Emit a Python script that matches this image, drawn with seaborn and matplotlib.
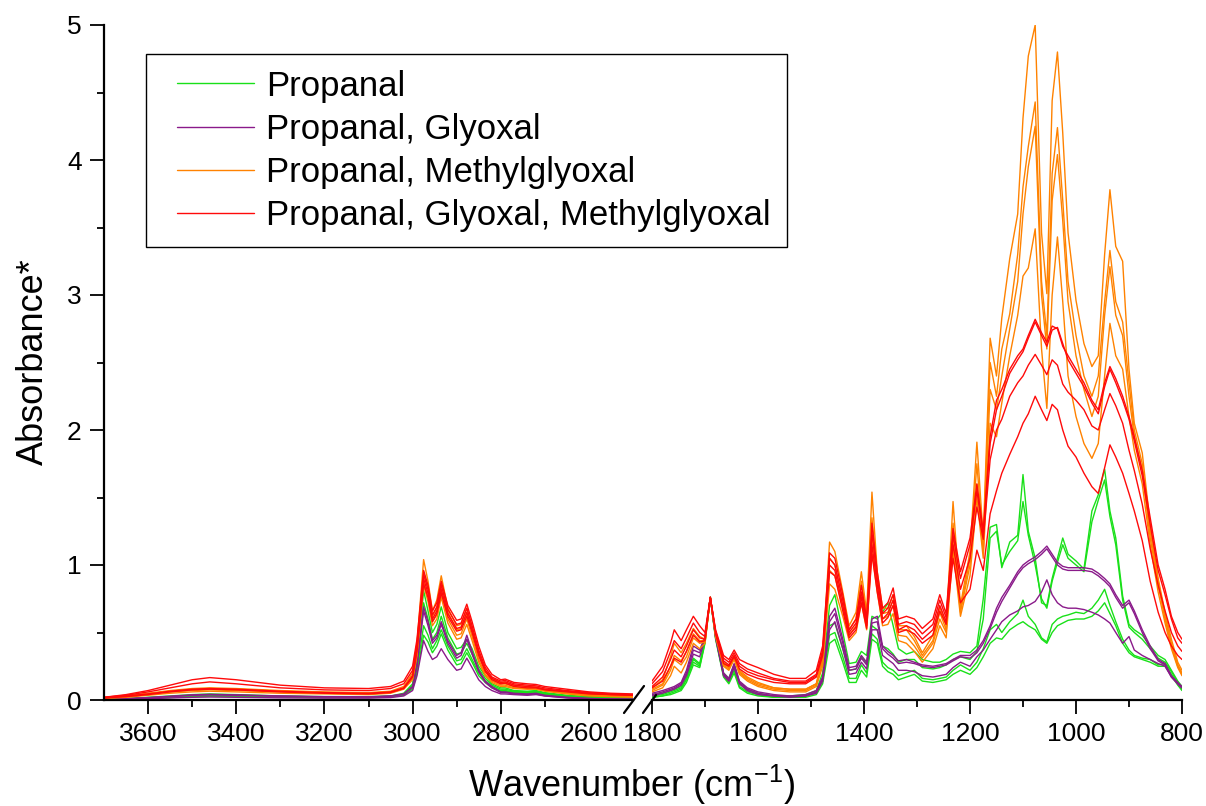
import numpy as np
import pandas as pd
import matplotlib
matplotlib.use("Agg")
import matplotlib.pyplot as plt
import seaborn as sns
from matplotlib.lines import Line2D
from matplotlib.legend_handler import HandlerLine2D

SERIES = ["Propanal", "Propanal, Glyoxal", "Propanal, Methylglyoxal",
          "Propanal, Glyoxal, Methylglyoxal"]
COLORS = {SERIES[0]: "#19E019", SERIES[1]: "#8A1A8A",
          SERIES[2]: "#FF8200", SERIES[3]: "#FF0A0A"}

# wavenumber grids (cm-1)
L_WN = [3700, 3650, 3600, 3550, 3500, 3460, 3400, 3300, 3200, 3100,
        3050, 3020, 3000, 2990, 2975, 2965, 2955, 2945, 2935, 2920,
        2900, 2890, 2877, 2865, 2850, 2835, 2820, 2800, 2790, 2770,
        2740, 2720, 2700, 2650, 2600, 2550, 2500]
R_WN = [1800, 1780, 1765, 1758, 1745, 1735, 1722, 1710, 1700, 1690,
        1680, 1665, 1655, 1645, 1635, 1620, 1600, 1570, 1540, 1510,
        1490, 1478, 1465, 1455, 1440, 1428, 1415, 1405, 1395, 1385,
        1375, 1365, 1355, 1345, 1335, 1320, 1305, 1290, 1270, 1257,
        1245, 1232, 1218, 1200, 1187, 1175, 1162, 1150, 1140, 1125,
        1110, 1100, 1090, 1077, 1065, 1055, 1045, 1035, 1025, 1015,
        1000, 985, 970, 958, 946, 936, 925, 912, 900, 890,
        875, 860, 845, 832, 820, 808, 800]

# ---- Propanal (green) ----
G1_L = [0.005, 0.01, 0.02, 0.03, 0.04, 0.045, 0.04, 0.03, 0.025, 0.025,
        0.03, 0.05, 0.12, 0.30, 0.81, 0.66, 0.50, 0.56, 0.69, 0.50,
        0.38, 0.39, 0.45, 0.38, 0.25, 0.18, 0.12, 0.09, 0.09, 0.07,
        0.065, 0.07, 0.055, 0.035, 0.025, 0.02, 0.015]
G1_R = [0.04, 0.05, 0.07, 0.08, 0.10, 0.18, 0.31, 0.27, 0.45, 0.76,
        0.48, 0.20, 0.16, 0.26, 0.13, 0.08, 0.05, 0.03, 0.03, 0.04,
        0.07, 0.20, 0.70, 0.78, 0.50, 0.27, 0.28, 0.36, 0.33, 0.62,
        0.60, 0.65, 0.72, 0.55, 0.38, 0.34, 0.36, 0.30, 0.28, 0.28,
        0.30, 0.34, 0.36, 0.35, 0.40, 0.75, 1.28, 1.30, 0.98, 1.17,
        1.22, 1.67, 1.25, 1.05, 0.72, 0.70, 0.90, 1.05, 1.20, 1.08,
        1.03, 0.97, 1.40, 1.52, 1.71, 1.40, 1.20, 0.77, 0.56, 0.52,
        0.48, 0.40, 0.33, 0.30, 0.22, 0.14, 0.10]
G2_L = [0.005, 0.01, 0.018, 0.025, 0.035, 0.04, 0.035, 0.028, 0.022, 0.022,
        0.028, 0.045, 0.11, 0.27, 0.72, 0.60, 0.45, 0.50, 0.62, 0.46,
        0.34, 0.35, 0.42, 0.34, 0.23, 0.16, 0.11, 0.08, 0.08, 0.065,
        0.06, 0.065, 0.05, 0.03, 0.02, 0.015, 0.012]
G2_R = [0.03, 0.04, 0.06, 0.07, 0.09, 0.16, 0.30, 0.26, 0.44, 0.76,
        0.47, 0.19, 0.15, 0.25, 0.12, 0.07, 0.04, 0.03, 0.02, 0.03,
        0.06, 0.16, 0.55, 0.57, 0.38, 0.22, 0.23, 0.32, 0.27, 0.55,
        0.52, 0.40, 0.38, 0.34, 0.28, 0.30, 0.30, 0.24, 0.23, 0.24,
        0.26, 0.30, 0.32, 0.30, 0.36, 0.60, 1.20, 1.25, 1.00, 1.10,
        1.18, 1.47, 1.22, 1.00, 0.75, 0.68, 0.88, 1.02, 1.15, 1.05,
        1.00, 0.95, 1.32, 1.48, 1.63, 1.36, 1.15, 0.74, 0.54, 0.50,
        0.45, 0.38, 0.31, 0.28, 0.21, 0.13, 0.09]
G3_L = [0.003, 0.008, 0.015, 0.02, 0.03, 0.032, 0.03, 0.024, 0.02, 0.02,
        0.025, 0.04, 0.09, 0.22, 0.55, 0.48, 0.38, 0.44, 0.52, 0.40,
        0.29, 0.30, 0.38, 0.30, 0.20, 0.14, 0.10, 0.07, 0.07, 0.06,
        0.055, 0.06, 0.045, 0.025, 0.015, 0.012, 0.01]
G3_R = [0.02, 0.03, 0.05, 0.06, 0.08, 0.15, 0.28, 0.25, 0.43, 0.76,
        0.46, 0.18, 0.13, 0.22, 0.10, 0.06, 0.04, 0.02, 0.02, 0.03,
        0.05, 0.14, 0.48, 0.50, 0.32, 0.16, 0.16, 0.26, 0.20, 0.49,
        0.45, 0.28, 0.24, 0.22, 0.18, 0.20, 0.22, 0.16, 0.15, 0.16,
        0.17, 0.22, 0.26, 0.22, 0.28, 0.38, 0.52, 0.56, 0.50, 0.58,
        0.64, 0.74, 0.62, 0.56, 0.46, 0.43, 0.56, 0.60, 0.62, 0.63,
        0.65, 0.64, 0.68, 0.74, 0.82, 0.70, 0.58, 0.45, 0.37, 0.33,
        0.31, 0.30, 0.26, 0.27, 0.19, 0.12, 0.08]
G4_L = [0.003, 0.007, 0.013, 0.018, 0.025, 0.028, 0.026, 0.022, 0.018, 0.018,
        0.022, 0.035, 0.08, 0.20, 0.48, 0.43, 0.35, 0.40, 0.49, 0.37,
        0.26, 0.27, 0.35, 0.28, 0.18, 0.13, 0.09, 0.065, 0.065, 0.055,
        0.05, 0.055, 0.04, 0.022, 0.013, 0.01, 0.008]
G4_R = [0.02, 0.03, 0.04, 0.05, 0.07, 0.13, 0.26, 0.24, 0.42, 0.76,
        0.45, 0.17, 0.12, 0.20, 0.09, 0.05, 0.03, 0.02, 0.02, 0.02,
        0.04, 0.12, 0.42, 0.45, 0.28, 0.13, 0.13, 0.22, 0.17, 0.45,
        0.42, 0.25, 0.21, 0.19, 0.15, 0.17, 0.19, 0.14, 0.13, 0.14,
        0.15, 0.19, 0.22, 0.19, 0.24, 0.32, 0.42, 0.46, 0.45, 0.52,
        0.56, 0.58, 0.55, 0.52, 0.45, 0.42, 0.50, 0.55, 0.57, 0.59,
        0.60, 0.60, 0.62, 0.66, 0.72, 0.64, 0.55, 0.42, 0.35, 0.32,
        0.30, 0.28, 0.25, 0.25, 0.18, 0.11, 0.07]

# ---- Propanal, Glyoxal (purple) ----
P1_L = [0.005, 0.01, 0.018, 0.028, 0.038, 0.042, 0.038, 0.03, 0.025, 0.024,
        0.03, 0.045, 0.10, 0.26, 0.69, 0.58, 0.44, 0.48, 0.58, 0.44,
        0.33, 0.35, 0.48, 0.36, 0.22, 0.14, 0.10, 0.06, 0.06, 0.05,
        0.045, 0.05, 0.035, 0.02, 0.012, 0.008, 0.006]
P1_R = [0.05, 0.07, 0.09, 0.10, 0.13, 0.22, 0.40, 0.37, 0.47, 0.76,
        0.48, 0.20, 0.16, 0.27, 0.14, 0.09, 0.06, 0.04, 0.03, 0.04,
        0.07, 0.17, 0.62, 0.68, 0.45, 0.24, 0.25, 0.33, 0.28, 0.60,
        0.62, 0.40, 0.36, 0.33, 0.29, 0.30, 0.28, 0.26, 0.25, 0.26,
        0.27, 0.30, 0.33, 0.33, 0.37, 0.44, 0.55, 0.68, 0.76, 0.85,
        0.95, 1.00, 1.03, 1.06, 1.10, 1.14, 1.08, 1.02, 0.99, 0.98,
        0.98, 0.98, 0.97, 0.94, 0.90, 0.86, 0.78, 0.70, 0.74, 0.66,
        0.52, 0.40, 0.30, 0.27, 0.18, 0.13, 0.10]
P2_L = [0.005, 0.01, 0.016, 0.025, 0.035, 0.038, 0.035, 0.028, 0.023, 0.022,
        0.028, 0.042, 0.095, 0.25, 0.66, 0.55, 0.42, 0.46, 0.56, 0.42,
        0.31, 0.33, 0.45, 0.34, 0.21, 0.13, 0.09, 0.055, 0.055, 0.045,
        0.04, 0.045, 0.03, 0.018, 0.01, 0.007, 0.005]
P2_R = [0.04, 0.06, 0.08, 0.09, 0.12, 0.20, 0.37, 0.35, 0.46, 0.76,
        0.47, 0.19, 0.15, 0.26, 0.13, 0.08, 0.05, 0.03, 0.03, 0.03,
        0.06, 0.16, 0.58, 0.64, 0.42, 0.22, 0.23, 0.31, 0.26, 0.57,
        0.58, 0.38, 0.34, 0.31, 0.27, 0.28, 0.27, 0.25, 0.24, 0.25,
        0.26, 0.29, 0.32, 0.31, 0.35, 0.42, 0.53, 0.65, 0.73, 0.83,
        0.93, 0.98, 1.01, 1.04, 1.08, 1.12, 1.06, 1.00, 0.97, 0.96,
        0.96, 0.96, 0.95, 0.92, 0.88, 0.84, 0.76, 0.68, 0.72, 0.64,
        0.50, 0.38, 0.29, 0.26, 0.17, 0.12, 0.09]
P3_L = [0.003, 0.006, 0.01, 0.015, 0.02, 0.022, 0.02, 0.016, 0.014, 0.014,
        0.018, 0.03, 0.07, 0.18, 0.44, 0.36, 0.30, 0.32, 0.38, 0.30,
        0.22, 0.23, 0.31, 0.24, 0.15, 0.10, 0.07, 0.045, 0.045, 0.04,
        0.035, 0.04, 0.03, 0.015, 0.008, 0.006, 0.005]
P3_R = [0.03, 0.05, 0.07, 0.08, 0.11, 0.18, 0.34, 0.32, 0.45, 0.76,
        0.46, 0.18, 0.14, 0.24, 0.12, 0.07, 0.04, 0.03, 0.02, 0.03,
        0.05, 0.14, 0.52, 0.58, 0.38, 0.19, 0.20, 0.28, 0.23, 0.52,
        0.52, 0.33, 0.30, 0.27, 0.22, 0.22, 0.21, 0.18, 0.17, 0.18,
        0.19, 0.24, 0.28, 0.25, 0.32, 0.37, 0.45, 0.52, 0.58, 0.63,
        0.66, 0.69, 0.70, 0.73, 0.80, 0.89, 0.78, 0.72, 0.69, 0.68,
        0.68, 0.67, 0.65, 0.63, 0.60, 0.57, 0.50, 0.42, 0.47, 0.37,
        0.33, 0.30, 0.27, 0.25, 0.17, 0.12, 0.09]

# ---- Propanal, Methylglyoxal (orange) ----
O1_L = [0.02, 0.03, 0.05, 0.07, 0.085, 0.09, 0.085, 0.07, 0.06, 0.055,
        0.065, 0.10, 0.20, 0.42, 1.04, 0.88, 0.66, 0.74, 0.92, 0.68,
        0.55, 0.56, 0.68, 0.53, 0.35, 0.22, 0.16, 0.13, 0.13, 0.11,
        0.10, 0.095, 0.08, 0.06, 0.045, 0.035, 0.03]
O1_R = [0.09, 0.15, 0.32, 0.42, 0.35, 0.42, 0.53, 0.47, 0.45, 0.76,
        0.50, 0.28, 0.25, 0.33, 0.22, 0.17, 0.13, 0.09, 0.08, 0.08,
        0.12, 0.32, 1.17, 1.10, 0.80, 0.55, 0.65, 0.95, 0.65, 1.54,
        0.95, 0.68, 0.68, 0.78, 0.55, 0.55, 0.47, 0.35, 0.48, 0.69,
        0.55, 1.47, 0.70, 1.10, 1.91, 1.20, 2.68, 2.40, 2.83, 3.27,
        3.60, 4.31, 4.77, 5.00, 3.46, 3.01, 4.44, 4.80, 4.20, 3.46,
        2.96, 2.64, 2.47, 2.55, 3.30, 3.78, 3.36, 3.25, 2.45, 2.05,
        1.83, 1.30, 0.90, 0.65, 0.45, 0.28, 0.22]
O2_L = [0.015, 0.03, 0.045, 0.065, 0.08, 0.085, 0.08, 0.065, 0.055, 0.05,
        0.06, 0.09, 0.18, 0.38, 0.95, 0.82, 0.62, 0.68, 0.86, 0.65,
        0.52, 0.53, 0.64, 0.50, 0.33, 0.21, 0.15, 0.12, 0.12, 0.10,
        0.09, 0.09, 0.075, 0.055, 0.04, 0.03, 0.028]
O2_R = [0.08, 0.12, 0.25, 0.33, 0.29, 0.36, 0.49, 0.44, 0.44, 0.76,
        0.49, 0.27, 0.24, 0.32, 0.21, 0.16, 0.12, 0.09, 0.08, 0.08,
        0.12, 0.30, 1.05, 1.00, 0.74, 0.52, 0.60, 0.88, 0.62, 1.35,
        0.92, 0.64, 0.65, 0.74, 0.52, 0.52, 0.44, 0.33, 0.44, 0.65,
        0.52, 1.31, 0.67, 1.05, 1.75, 1.15, 2.50, 2.25, 2.60, 2.86,
        3.30, 3.80, 4.10, 4.43, 3.10, 2.70, 3.90, 4.24, 3.70, 3.10,
        2.70, 2.40, 2.25, 2.40, 2.95, 3.33, 2.95, 2.80, 2.35, 2.00,
        1.75, 1.25, 0.88, 0.62, 0.42, 0.26, 0.20]
O3_L = [0.015, 0.025, 0.04, 0.06, 0.07, 0.075, 0.07, 0.06, 0.05, 0.045,
        0.055, 0.085, 0.16, 0.35, 0.88, 0.76, 0.58, 0.63, 0.80, 0.60,
        0.48, 0.49, 0.60, 0.47, 0.30, 0.19, 0.14, 0.11, 0.11, 0.09,
        0.085, 0.085, 0.07, 0.05, 0.035, 0.03, 0.025]
O3_R = [0.07, 0.11, 0.22, 0.30, 0.26, 0.32, 0.46, 0.42, 0.43, 0.76,
        0.48, 0.26, 0.23, 0.31, 0.20, 0.15, 0.11, 0.08, 0.07, 0.07,
        0.11, 0.28, 0.96, 0.92, 0.68, 0.48, 0.55, 0.80, 0.58, 1.22,
        0.88, 0.60, 0.62, 0.70, 0.48, 0.47, 0.40, 0.31, 0.42, 0.60,
        0.50, 1.20, 0.65, 1.00, 1.60, 1.10, 2.30, 2.15, 2.40, 2.75,
        3.10, 3.60, 3.95, 4.25, 3.00, 2.60, 3.70, 4.04, 3.55, 2.95,
        2.55, 2.30, 2.10, 2.25, 2.85, 3.21, 2.85, 2.70, 2.25, 1.95,
        1.70, 1.20, 0.85, 0.60, 0.40, 0.25, 0.19]
O4_L = [0.01, 0.02, 0.035, 0.05, 0.06, 0.065, 0.06, 0.05, 0.045, 0.04,
        0.05, 0.08, 0.15, 0.33, 0.85, 0.73, 0.55, 0.60, 0.76, 0.57,
        0.45, 0.46, 0.56, 0.44, 0.28, 0.18, 0.13, 0.10, 0.10, 0.085,
        0.08, 0.08, 0.065, 0.045, 0.03, 0.025, 0.02]
O4_R = [0.06, 0.09, 0.18, 0.25, 0.20, 0.28, 0.42, 0.38, 0.42, 0.76,
        0.47, 0.25, 0.22, 0.30, 0.19, 0.14, 0.10, 0.07, 0.06, 0.06,
        0.10, 0.25, 0.86, 0.82, 0.62, 0.44, 0.50, 0.72, 0.52, 1.10,
        0.80, 0.55, 0.56, 0.64, 0.44, 0.42, 0.36, 0.28, 0.38, 0.55,
        0.46, 1.11, 0.62, 0.92, 1.50, 1.05, 2.05, 1.95, 2.20, 2.55,
        2.85, 3.14, 3.20, 3.49, 2.60, 2.16, 3.00, 3.43, 2.95, 2.40,
        2.10, 1.90, 1.79, 1.90, 2.40, 2.79, 2.55, 2.45, 2.10, 1.85,
        1.60, 1.15, 0.80, 0.57, 0.38, 0.24, 0.18]

# ---- Propanal, Glyoxal, Methylglyoxal (red) ----
R1_L = [0.02, 0.04, 0.07, 0.11, 0.15, 0.166, 0.15, 0.11, 0.09, 0.085,
        0.10, 0.14, 0.25, 0.45, 0.96, 0.85, 0.66, 0.72, 0.88, 0.70,
        0.59, 0.60, 0.71, 0.58, 0.40, 0.26, 0.19, 0.15, 0.155, 0.13,
        0.12, 0.115, 0.10, 0.08, 0.06, 0.05, 0.045]
R1_R = [0.14, 0.25, 0.42, 0.52, 0.44, 0.52, 0.62, 0.55, 0.50, 0.76,
        0.52, 0.33, 0.30, 0.37, 0.30, 0.27, 0.24, 0.19, 0.16, 0.16,
        0.22, 0.40, 1.09, 1.05, 0.78, 0.52, 0.60, 0.85, 0.60, 1.31,
        0.95, 0.68, 0.72, 0.83, 0.60, 0.62, 0.60, 0.53, 0.60, 0.78,
        0.64, 1.27, 0.95, 1.20, 1.60, 1.25, 1.95, 2.22, 2.30, 2.45,
        2.55, 2.60, 2.70, 2.82, 2.72, 2.65, 2.77, 2.75, 2.62, 2.55,
        2.45, 2.35, 2.22, 2.15, 2.35, 2.47, 2.38, 2.25, 2.10, 1.95,
        1.70, 1.35, 1.00, 0.82, 0.62, 0.50, 0.45]
R2_L = [0.02, 0.035, 0.06, 0.09, 0.12, 0.134, 0.12, 0.09, 0.075, 0.07,
        0.085, 0.12, 0.22, 0.42, 0.93, 0.82, 0.63, 0.69, 0.85, 0.67,
        0.56, 0.57, 0.68, 0.55, 0.37, 0.24, 0.17, 0.14, 0.145, 0.12,
        0.11, 0.105, 0.09, 0.07, 0.055, 0.045, 0.04]
R2_R = [0.12, 0.21, 0.36, 0.44, 0.38, 0.46, 0.57, 0.50, 0.47, 0.76,
        0.51, 0.31, 0.28, 0.35, 0.27, 0.23, 0.20, 0.16, 0.14, 0.14,
        0.19, 0.37, 1.05, 1.00, 0.74, 0.50, 0.57, 0.80, 0.58, 1.24,
        0.90, 0.64, 0.68, 0.78, 0.56, 0.58, 0.56, 0.49, 0.56, 0.74,
        0.61, 1.22, 0.90, 1.15, 1.55, 1.22, 1.90, 2.15, 2.25, 2.42,
        2.52, 2.58, 2.68, 2.80, 2.70, 2.62, 2.74, 2.76, 2.64, 2.52,
        2.42, 2.32, 2.20, 2.12, 2.32, 2.45, 2.35, 2.22, 2.08, 1.92,
        1.66, 1.30, 0.96, 0.78, 0.60, 0.46, 0.42]
R3_L = [0.015, 0.03, 0.045, 0.065, 0.08, 0.085, 0.08, 0.065, 0.055, 0.05,
        0.06, 0.09, 0.18, 0.38, 0.90, 0.79, 0.60, 0.66, 0.82, 0.64,
        0.53, 0.54, 0.65, 0.52, 0.35, 0.22, 0.16, 0.13, 0.135, 0.11,
        0.10, 0.095, 0.08, 0.065, 0.05, 0.04, 0.035]
R3_R = [0.10, 0.17, 0.30, 0.37, 0.32, 0.40, 0.52, 0.46, 0.45, 0.76,
        0.50, 0.29, 0.26, 0.33, 0.25, 0.21, 0.18, 0.15, 0.13, 0.13,
        0.18, 0.35, 1.00, 0.96, 0.70, 0.48, 0.54, 0.76, 0.55, 1.15,
        0.85, 0.60, 0.64, 0.74, 0.52, 0.55, 0.52, 0.45, 0.52, 0.70,
        0.58, 1.15, 0.82, 1.05, 1.43, 1.19, 1.78, 2.00, 2.08, 2.25,
        2.35, 2.40, 2.48, 2.56, 2.48, 2.41, 2.52, 2.48, 2.34, 2.28,
        2.22, 2.15, 2.03, 2.00, 2.15, 2.27, 2.18, 2.05, 1.85, 1.70,
        1.45, 1.12, 0.85, 0.66, 0.50, 0.40, 0.36]
R4_L = [0.015, 0.025, 0.04, 0.06, 0.075, 0.08, 0.075, 0.06, 0.05, 0.045,
        0.055, 0.085, 0.17, 0.36, 0.86, 0.76, 0.58, 0.64, 0.79, 0.62,
        0.51, 0.52, 0.62, 0.50, 0.33, 0.21, 0.15, 0.12, 0.125, 0.10,
        0.09, 0.09, 0.075, 0.06, 0.045, 0.04, 0.035]
R4_R = [0.09, 0.14, 0.25, 0.31, 0.28, 0.36, 0.48, 0.43, 0.44, 0.76,
        0.49, 0.27, 0.25, 0.32, 0.23, 0.19, 0.16, 0.13, 0.12, 0.12,
        0.17, 0.33, 0.95, 0.92, 0.66, 0.46, 0.52, 0.72, 0.53, 1.08,
        0.80, 0.57, 0.61, 0.70, 0.50, 0.52, 0.49, 0.42, 0.48, 0.66,
        0.56, 1.05, 0.72, 0.82, 1.11, 0.96, 1.38, 1.55, 1.68, 1.82,
        1.95, 2.05, 2.12, 2.25, 2.15, 2.07, 2.19, 2.15, 2.00, 1.88,
        1.80, 1.68, 1.58, 1.53, 1.72, 1.89, 1.80, 1.68, 1.53, 1.40,
        1.18, 0.88, 0.65, 0.50, 0.40, 0.33, 0.30]

CURVES = [
    (SERIES[0], "G1", G1_L, G1_R), (SERIES[0], "G2", G2_L, G2_R),
    (SERIES[0], "G3", G3_L, G3_R), (SERIES[0], "G4", G4_L, G4_R),
    (SERIES[1], "P1", P1_L, P1_R), (SERIES[1], "P2", P2_L, P2_R),
    (SERIES[1], "P3", P3_L, P3_R),
    (SERIES[2], "O1", O1_L, O1_R), (SERIES[2], "O2", O2_L, O2_R),
    (SERIES[2], "O3", O3_L, O3_R), (SERIES[2], "O4", O4_L, O4_R),
    (SERIES[3], "R1", R1_L, R1_R), (SERIES[3], "R2", R2_L, R2_R),
    (SERIES[3], "R3", R3_L, R3_R), (SERIES[3], "R4", R4_L, R4_R),
]

L_MAJOR = [3600, 3400, 3200, 3000, 2800, 2600]
L_MINOR = [3500, 3300, 3100, 2900, 2700]
R_MAJOR = [1800, 1600, 1400, 1200, 1000, 800]
R_MINOR = [1700, 1500, 1300, 1100, 900]
Y_MAJOR = [0, 1, 2, 3, 4, 5]
Y_MINOR = [0.5, 1.5, 2.5, 3.5, 4.5]

rows_l, rows_r = [], []
for ser, rep, lv, rv in CURVES:
    for w, a in zip(L_WN, lv):
        rows_l.append((ser, rep, w, a))
    for w, a in zip(R_WN, rv):
        rows_r.append((ser, rep, w, a))
cols = ["series", "replicate", "wn", "absorbance"]
df_l = pd.DataFrame(rows_l, columns=cols)
df_r = pd.DataFrame(rows_r, columns=cols)

sns.set_style("ticks")
plt.rcParams["font.family"] = ["Liberation Sans", "DejaVu Sans"]
plt.rcParams["mathtext.default"] = "regular"
for k in ("text.color", "axes.labelcolor", "xtick.color", "ytick.color",
          "xtick.labelcolor", "ytick.labelcolor"):
    plt.rcParams[k] = "black"

W, H = 1206, 806
fig = plt.figure(figsize=(W / 100, H / 100), dpi=100)
axL = fig.add_axes([104 / W, 106 / H, 529 / W, 675 / H])
axR = fig.add_axes([652 / W, 106 / H, 530 / W, 675 / H])

for ax, df in ((axL, df_l), (axR, df_r)):
    sns.lineplot(data=df, x="wn", y="absorbance", hue="series",
                 hue_order=SERIES, units="replicate", estimator=None,
                 palette=COLORS, linewidth=1.0, legend=False, ax=ax)
    ax.set_xlabel("")
    ax.set_ylabel("")
    ax.set_ylim(0, 5)
    for s in ("top", "right"):
        ax.spines[s].set_visible(False)
    for s in ("left", "bottom"):
        ax.spines[s].set_linewidth(1.6)
        ax.spines[s].set_color("black")
    ax.tick_params(which="major", direction="out", length=10, width=1.3,
                   labelsize=19, pad=6, color="black", labelcolor="black")
    ax.tick_params(which="minor", direction="out", length=5, width=1.3,
                   color="black")

axL.set_xlim(3700, 2500)
axL.set_xticks(L_MAJOR)
axL.set_xticks(L_MINOR, minor=True)
axL.set_yticks(Y_MAJOR)
axL.set_yticks(Y_MINOR, minor=True)
axL.set_yticklabels([str(v) for v in Y_MAJOR])

axR.set_xlim(1800, 800)
axR.set_xticks(R_MAJOR)
axR.set_xticks(R_MINOR, minor=True)
axR.spines["left"].set_visible(False)
axR.tick_params(axis="y", which="both", left=False, labelleft=False)

# axis break marks
def px(x, y):
    return x / W, 1 - y / H

for (x0, y0), (x1, y1) in (((624, 713), (644, 686)), ((643, 713), (656, 695))):
    a, b = px(x0, y0)
    c, d = px(x1, y1)
    fig.add_artist(Line2D([a, c], [b, d], color="black", lw=1.6,
                          transform=fig.transFigure))

fig.text(632 / W, 1 - 785 / H, "Wavenumber (cm$^{-1}$)", ha="center",
         va="center", fontsize=26)
fig.text(33 / W, 1 - 362 / H, "Absorbance*", ha="center", va="center",
         rotation=90, fontsize=26)

handles = [Line2D([0], [0], color=COLORS[s], lw=1.0) for s in SERIES]
leg = fig.legend(handles, SERIES, loc="upper left",
                 bbox_to_anchor=(146 / W, 1 - 238 / H, 641 / W, 184 / H),
                 mode="expand", fontsize=25, frameon=True, fancybox=False,
                 edgecolor="black", framealpha=1, borderpad=0.45,
                 labelspacing=0.29, handlelength=2.66, handletextpad=0.35,
                 borderaxespad=0,
                 handler_map={Line2D: HandlerLine2D(xpad=0.44)})
leg.get_frame().set_linewidth(1.0)

fig.savefig("out.png", dpi=100)
